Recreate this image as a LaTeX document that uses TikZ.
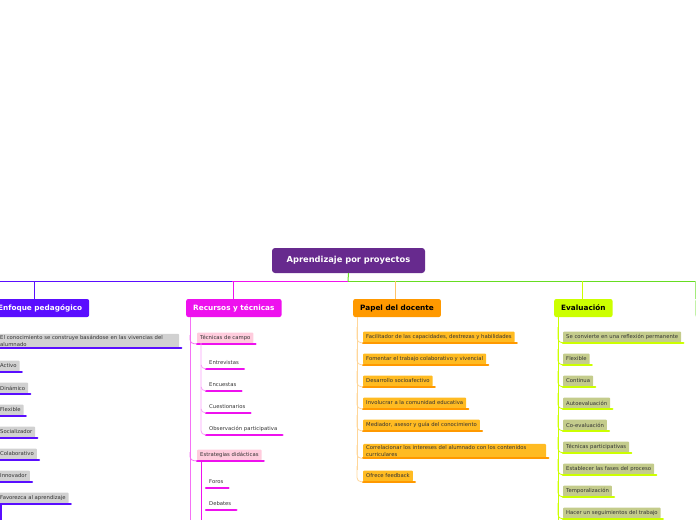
\documentclass[tikz,border=0pt]{standalone}
\usepackage{fontspec}
\setmainfont{DejaVu Sans}
\hyphenpenalty=10000
\begin{document}
\begin{tikzpicture}[x=1pt,y=-1pt,
 main/.style={rounded corners=2pt,inner xsep=7pt,minimum height=18pt,font=\fontsize{7.3}{8}\selectfont\bfseries,anchor=west},
 item/.style={inner xsep=3pt,inner ysep=1.5pt,minimum height=11pt,font=\fontsize{5.3}{7}\selectfont,text=black!80,anchor=west,rounded corners=1pt},
 ul/.style={line width=2.2pt,line cap=round},
 br/.style={line width=0.8pt,rounded corners=4pt}]
\definecolor{cpur}{HTML}{672A8E}\definecolor{cblue}{HTML}{5A0EFF}\definecolor{cmag}{HTML}{EE11EE}
\definecolor{cora}{HTML}{FF9900}\definecolor{cyg}{HTML}{CCFF00}\definecolor{cgrn}{HTML}{66DD22}
\definecolor{cpink}{HTML}{FFCCDD}\definecolor{cyel}{HTML}{FFBB22}\definecolor{coli}{HTML}{C4CC8C}
\useasboundingbox (0,0) rectangle (696,520);
\clip (0,0) rectangle (696,520);
\node[main,fill=cpur,text=white,minimum height=25pt,minimum width=153pt,rounded corners=3pt,anchor=center,font=\fontsize{8.3}{9}\selectfont\bfseries] (root) at (348.5,260.5) {Aprendizaje por proyectos};
\coordinate (j) at (348,281);
\draw[cgrn,line width=1pt] (root.south) -- (j);
\draw[cblue,line width=0.8pt] (0,281) -- (232,281);
\draw[cmag,line width=0.8pt] (232,281) -- (348,281);
\draw[cgrn,line width=0.8pt] (348,281) -- (696,281);
% main nodes
\node[main,fill=cblue,text=white] (e) at (-9,308) {Enfoque pedagógico};
\node[main,fill=cmag,text=white] (r) at (186,308) {Recursos y técnicas};
\node[main,fill=cora,text=black] (p) at (353,308) {Papel del docente};
\node[main,fill=cyg,text=black] (v) at (554,308) {Evaluación};
\node[main,fill=cgrn!40,minimum width=20pt] (x) at (695,308) {};
\draw[cblue,br] (34,281) -- (e.north-|34,0);
\draw[cmag,br] (233,281) -- (r.north-|233,0);
\draw[cora!60,br] (395,281) -- (p.north-|395,0);
\draw[cyg,br] (582,281) -- (v.north-|582,0);
\draw[cgrn!60,br] (695,281) -- (x.north-|695,0);
% Enfoque
\node[item,fill=black!18,text width=176pt,align=left] (e1) at (-3,341) {El conocimiento se construye basándose en las vivencias del alumnado};
\draw[cblue,ul] (e1.south west) -- ([xshift=2pt]e1.south east);
\foreach \n/\y/\t in {e2/366/Activo,e3/388/Dinámico,e4/410/Flexible,e5/432/Socializador,e6/454/Colaborativo,e7/476/Innovador,e8/498/Favorezca al aprendizaje}{
 \node[item,fill=black!18] (\n) at (-3,\y) {\t};
 \draw[cblue,ul] (\n.south west) -- ([xshift=2pt]\n.south east);}
\draw[cblue,line width=1.2pt] (1,505) -- (1,520);
% Recursos
\coordinate (rb) at (190,317);
\draw[cmag!60,line width=0.8pt] (rb) -- (190,520);
\node[item,fill=cpink] (t1) at (197,338) {Técnicas de campo};
\draw[cmag,ul] (t1.south west) -- ([xshift=2pt]t1.south east);
\draw[cmag!60,br] (190,335) |- (t1.south west);
\node[item,fill=cpink] (t2) at (197,455) {Estrategias didácticas};
\draw[cmag,ul] (t2.south west) -- ([xshift=2pt]t2.south east);
\draw[cmag!60,br] (190,452) |- (t2.south west);
\foreach \n/\y/\t in {s1/363/Entrevistas,s2/385/Encuestas,s3/407/Cuestionarios,s4/429/Observación participativa}{
 \node[item] (\n) at (206,\y) {\t};
 \draw[cmag,ul] (\n.south west) -- ([xshift=2pt]\n.south east);
 \draw[cmag!40,br] (201,\y-20) |- (\n.south west);}
\draw[cmag,line width=1pt] (t2.south west-|201,0) -- (201,520);
\foreach \n/\y/\t in {f1/482/Foros,f2/504/Debates}{
 \node[item] (\n) at (206,\y) {\t};
 \draw[cmag,ul] (\n.south west) -- ([xshift=2pt]\n.south east);}
% Papel
\foreach \n/\y/\t in {p1/337/{Facilitador de las capacidades, destrezas y habilidades},p2/359/Fomentar el trabajo colaborativo y vivencial,p3/381/Desarrollo socioafectivo,p4/403/Involucrar a la comunidad educativa,p5/425/{Mediador, asesor y guía del conocimiento},p7/476/Ofrece feedback}{
 \node[item,fill=cyel] (\n) at (363,\y) {\t};
 \draw[cora,ul] (\n.south west) -- ([xshift=2pt]\n.south east);
 \draw[cora!40,br] (357,\y-10) |- (\n.south west);}
\node[item,fill=cyel,text width=177pt,align=left] (p6) at (363,451) {Correlacionar los intereses del alumnado con los contenidos curriculares};
\draw[cora,ul] (p6.south west) -- ([xshift=2pt]p6.south east);
\draw[cora!40,br] (357,445) |- (p6.south west);
\draw[cora!40,line width=0.8pt] (357,317) -- (357,470);
% Evaluacion
\draw[cyg,line width=1pt] (558,317) -- (558,520);
\foreach \n/\y/\t in {v1/337/Se convierte en una reflexión permanente,v2/359/Flexible,v3/381/Continua,v4/403/Autoevaluación,v5/425/Co-evaluación,v6/447/Técnicas participativas,v7/469/Establecer las fases del proceso,v8/491/Temporalización,v9/513/Hacer un seguimientos del trabajo}{
 \node[item,fill=coli] (\n) at (563,\y) {\t};
 \draw[cyg,ul] (\n.south west) -- ([xshift=2pt]\n.south east);
 \draw[cyg,br] (558,\y-10) |- (\n.south west);}
\end{tikzpicture}
\end{document}
